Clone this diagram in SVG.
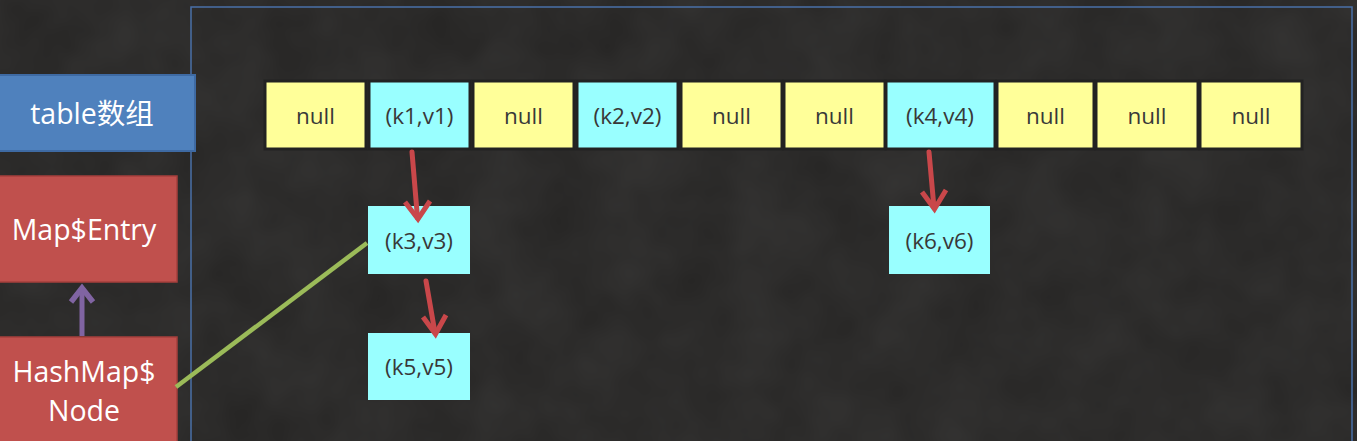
<svg xmlns="http://www.w3.org/2000/svg" width="1357" height="441" viewBox="0 0 1357 441">
<defs>
<style>
.bg{fill:#252423}
.frame{fill:none;stroke:#4a70a8;stroke-width:1.5}
.cell{stroke:#222222;stroke-width:3}
.y{fill:#ffff99}
.c{fill:#99ffff}
.ct{font-family:"Open Sans","Noto Sans",sans-serif;font-size:22.5px;fill:#383838;text-anchor:middle;dominant-baseline:central}
.lt{font-family:"Open Sans","Noto Sans","Noto Sans CJK SC",sans-serif;font-size:28.5px;fill:#ffffff;text-anchor:middle}
.red{stroke:#c9474a;stroke-width:5;fill:none;stroke-linecap:round}
.arr{stroke:#c9474a;stroke-width:5;fill:none;stroke-linejoin:miter}
</style>
<filter id="tex" x="0" y="0" width="100%" height="100%">
<feTurbulence type="fractalNoise" baseFrequency="0.015" numOctaves="3" seed="4"/>
<feColorMatrix type="matrix" values="0 0 0 0 0.25  0 0 0 0 0.25  0 0 0 0 0.25  0 0 0 0.16 0"/>
</filter>
</defs>
<rect class="bg" x="0" y="0" width="1357" height="441"/>
<rect x="0" y="0" width="1357" height="441" filter="url(#tex)"/>
<rect class="frame" x="191" y="7" width="1161" height="450"/>

<g id="table-label">
<rect x="-2" y="75" width="197" height="76" fill="#4f81bd" stroke="#3e6aa3" stroke-width="2"/>
<text class="lt" x="92" y="124">table数组</text>
</g>
<g id="map-entry">
<rect x="-2" y="176" width="179" height="106" fill="#c0504d" stroke="#a63f3c" stroke-width="1.5"/>
<text class="lt" x="84" y="240">Map$Entry</text>
</g>
<g id="hashmap-node">
<rect x="-2" y="337" width="179" height="120" fill="#c0504d" stroke="#a63f3c" stroke-width="1.5"/>
<text class="lt" x="84" y="382">HashMap$</text>
<text class="lt" x="84" y="421">Node</text>
</g>

<g id="table">
<g id="cell0"><rect class="cell y" x="265" y="81" width="101" height="68"/><text class="ct" x="315.5" y="115">null</text></g>
<g id="cell1"><rect class="cell c" x="369" y="81" width="101" height="68"/><text class="ct" x="419.5" y="115">(k1,v1)</text></g>
<g id="cell2"><rect class="cell y" x="473" y="81" width="101" height="68"/><text class="ct" x="523.5" y="115">null</text></g>
<g id="cell3"><rect class="cell c" x="577" y="81" width="101" height="68"/><text class="ct" x="627.5" y="115">(k2,v2)</text></g>
<g id="cell4"><rect class="cell y" x="681" y="81" width="101" height="68"/><text class="ct" x="731.5" y="115">null</text></g>
<g id="cell5"><rect class="cell y" x="784" y="81" width="101" height="68"/><text class="ct" x="834.5" y="115">null</text></g>
<g id="cell6"><rect class="cell c" x="886" y="81" width="109" height="68"/><text class="ct" x="940" y="115">(k4,v4)</text></g>
<g id="cell7"><rect class="cell y" x="997" y="81" width="97" height="68"/><text class="ct" x="1045.5" y="115">null</text></g>
<g id="cell8"><rect class="cell y" x="1096" y="81" width="102" height="68"/><text class="ct" x="1147" y="115">null</text></g>
<g id="cell9"><rect class="cell y" x="1200" y="81" width="102" height="68"/><text class="ct" x="1251" y="115">null</text></g>
</g>

<g id="k3v3"><rect class="c" x="368" y="206" width="102" height="68"/><text class="ct" x="419" y="240">(k3,v3)</text></g>
<g id="k5v5"><rect class="c" x="368" y="333" width="102" height="67"/><text class="ct" x="419" y="366">(k5,v5)</text></g>
<g id="k6v6"><rect class="c" x="889" y="206" width="101" height="68"/><text class="ct" x="939.5" y="240">(k6,v6)</text></g>

<g id="connectors">
<line x1="412" y1="152" x2="417.5" y2="218" class="red"/>
<polyline class="arr" points="405,202 418,219 430,201"/>
<line x1="426" y1="281" x2="435" y2="333" class="red"/>
<polyline class="arr" points="423,317 435.5,334 446,315"/>
<line x1="929" y1="152" x2="934" y2="208" class="red"/>
<polyline class="arr" points="922,192 934.5,209 946,190"/>
<line x1="82" y1="336" x2="82" y2="288" stroke="#8064a2" stroke-width="5"/>
<polyline points="71,302 82,288 93,302" fill="none" stroke="#8064a2" stroke-width="5.5"/>
<line x1="176" y1="387" x2="367" y2="243" stroke="#9bbb59" stroke-width="4.5"/>
</g>
</svg>
